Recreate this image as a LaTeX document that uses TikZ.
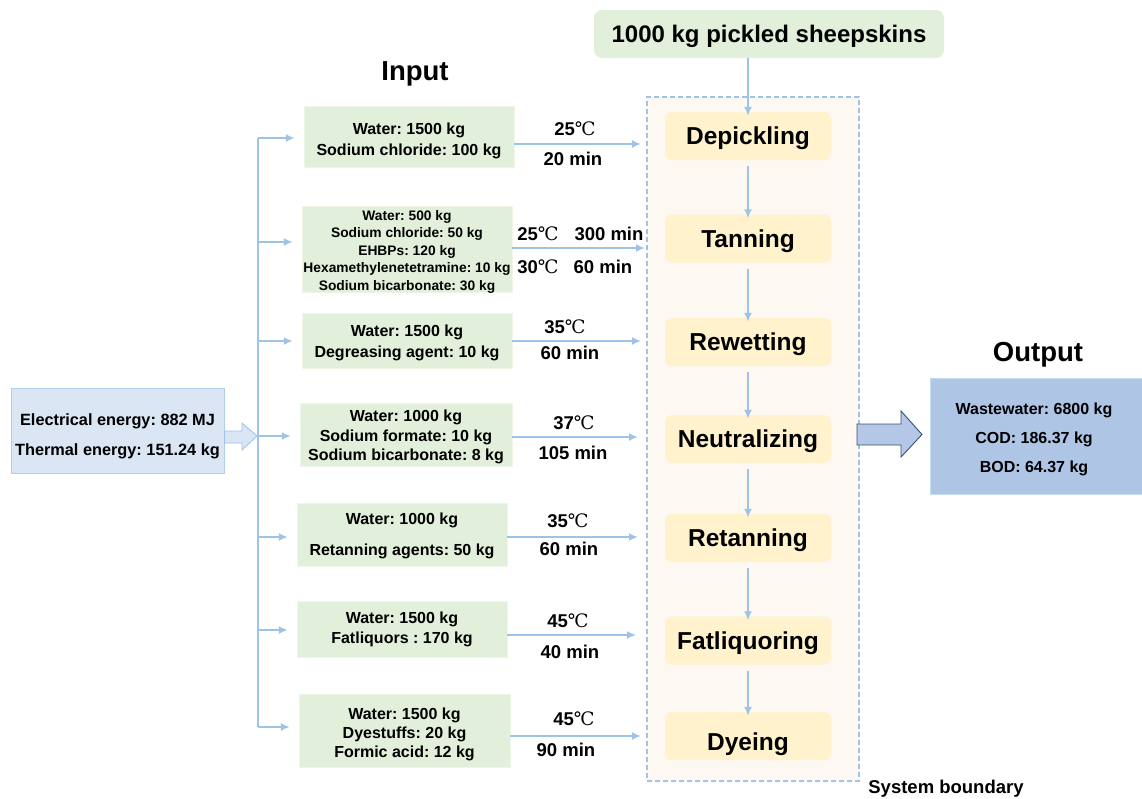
\documentclass[tikz,border=0pt]{standalone}
\usepackage{fontspec}
\setmainfont{Liberation Sans}
\newfontfamily\degf{DejaVu Serif}
\usetikzlibrary{arrows.meta}
\definecolor{lineblue}{HTML}{9DC3E6}
\definecolor{inbg}{HTML}{E2EFDA}
\definecolor{procbg}{HTML}{FFF2CC}
\definecolor{bndbg}{HTML}{FDF8F1}
\definecolor{enbg}{HTML}{DAE6F4}
\definecolor{outbg}{HTML}{AEC5E6}
\definecolor{outarrow}{HTML}{B4C7E7}
\definecolor{outarrowd}{HTML}{3A4E72}
\newcommand{\dgc}{{\degf\mdseries ℃}}
\frenchspacing
\tikzset{
  inbox/.style={fill=inbg, draw=inbg!60!white, inner sep=0},
  btext/.style={inner sep=0, align=center, text depth=0pt},
  proc/.style={fill=procbg, rounded corners=7, minimum width=166, minimum height=48, inner sep=0, text height=17.5pt, text depth=0pt, font=\fontsize{24.5}{28}\selectfont\bfseries},
  flow/.style={draw=lineblue, line width=1.8, -{Latex[length=9,width=8]}},
  plain/.style={draw=lineblue, line width=1.8},
  lbl/.style={font=\fontsize{18.5}{20}\selectfont\bfseries, inner sep=0, text height=13.2pt, text depth=0pt},
  title/.style={font=\fontsize{27.5}{30}\selectfont\bfseries, inner sep=0, text height=19.7pt, text depth=0pt},
}
\begin{document}
\begin{tikzpicture}[x=1pt,y=-1pt]
\useasboundingbox (0,0) rectangle (1142,798);

% system boundary
\node[draw=lineblue, dashed, dash pattern=on 5pt off 3pt, line width=1.2, fill=bndbg, minimum width=212, minimum height=684, inner sep=0] (bnd) at (753,439) {};
\node[font=\fontsize{18.5}{20}\selectfont\bfseries, inner sep=0, text height=13.2pt, text depth=0pt] (sbl) at (946,787) {System boundary};

% top
\node[fill=inbg, rounded corners=8, minimum width=350, minimum height=48, inner sep=0, text height=17.2pt, text depth=0pt, font=\fontsize{24}{28}\selectfont\bfseries] (top) at (769,34) {1000 kg pickled sheepskins};

% processes
\node[proc] (p1) at (748,136) {Depickling};
\node[proc] (p2) at (748,238.5) {Tanning};
\node[proc] (p3) at (748,342) {Rewetting};
\node[proc] (p4) at (748,439) {Neutralizing};
\node[proc] (p5) at (748,538) {Retanning};
\node[proc] (p6) at (748,640.5) {Fatliquoring};
\node[proc, text height=28.5pt] (p7) at (748,736) {Dyeing};

\draw[flow] (top.south -| p1.north) -- ([yshift=-4]p1.north);
\foreach \a/\b in {p1/p2,p2/p3,p3/p4,p4/p5,p5/p6,p6/p7}
  \draw[flow] ([yshift=-6]\a.south) -- ([yshift=-4]\b.north);

% titles
\node[title] (inl) at (415,71) {Input};
\node[title] (outl) at (1038,352) {Output};

% energy box
\node[fill=enbg, draw=lineblue!80, line width=1, minimum width=213, minimum height=85, inner sep=0] (en) at (117.5,430.5) {};
\node[btext, font=\fontsize{16.3}{30}\selectfont\bfseries] (ent) at (117.5,435) {Electrical energy: 882 MJ\\Thermal energy: 151.24 kg};
\coordinate (etip) at (257,436);
\filldraw[fill=enbg, draw=lineblue, line width=0.8] (en.east |- 0,431) -- (242,431) -- (242,423) -- (etip) -- (242,450) -- (242,443) -- (en.east |- 0,443) -- cycle;

% input boxes
\node[inbox, minimum width=210, minimum height=61] (in1) at (409,136.5) {};
\node[inbox, minimum width=210, minimum height=86] (in2) at (407,249) {};
\node[inbox, minimum width=210, minimum height=55] (in3) at (407,340.5) {};
\node[inbox, minimum width=212, minimum height=63] (in4) at (406,434.5) {};
\node[inbox, minimum width=210, minimum height=63] (in5) at (402,534.5) {};
\node[inbox, minimum width=210, minimum height=56] (in6) at (402,629) {};
\node[inbox, minimum width=211, minimum height=73] (in7) at (404.5,730.5) {};

\node[btext, font=\fontsize{16}{21}\selectfont\bfseries] (in1t) at (409,139.5) {Water: 1500 kg\\Sodium chloride: 100 kg};
\node[btext, font=\fontsize{13.8}{17.5}\selectfont\bfseries] (in2t) at (407,250) {Water: 500 kg\\Sodium chloride: 50 kg\\EHBPs: 120 kg\\Hexamethylenetetramine: 10 kg\\Sodium bicarbonate: 30 kg};
\node[btext, font=\fontsize{16}{21}\selectfont\bfseries] (in3t) at (407,341.5) {Water: 1500 kg\\Degreasing agent: 10 kg};
\node[btext, font=\fontsize{16}{19.5}\selectfont\bfseries] (in4t) at (406,435.5) {Water: 1000 kg\\Sodium formate: 10 kg\\Sodium bicarbonate: 8 kg};
\node[btext, font=\fontsize{16}{31}\selectfont\bfseries] (in5t) at (402,534.5) {Water: 1000 kg\\Retanning agents: 50 kg};
\node[btext, font=\fontsize{16}{20}\selectfont\bfseries] (in6t) at (402,628) {Water: 1500 kg\\Fatliquors : 170 kg};
\node[btext, font=\fontsize{16}{19}\selectfont\bfseries] (in7t) at (404.5,732.5) {Water: 1500 kg\\Dyestuffs: 20 kg\\Formic acid: 12 kg};

% distribution line
\coordinate (v1) at (258,138);
\coordinate (v2) at (258,242);
\coordinate (v3) at (258,341);
\coordinate (v4) at (258,436);
\coordinate (v5) at (258,537);
\coordinate (v6) at (258,630);
\coordinate (v7) at (258,727);
\draw[plain] (v1) -- (v7);
\foreach \i in {1,...,7}
  \draw[flow] (v\i) -- ([xshift=-9]in\i.west |- v\i);

% process arrows
\coordinate (a1) at (641,144);
\coordinate (a2) at (645,248);
\coordinate (a3) at (641,341);
\coordinate (a4) at (638,437);
\coordinate (a5) at (638,537);
\coordinate (a6) at (636,635);
\coordinate (a7) at (641,736);
\foreach \i in {1,...,7}
  \draw[flow] (in\i.east |- a\i) -- (a\i);

\node[lbl] (t1) at (575,129) {25\dgc};
\node[lbl] (m1) at (573,159) {20 min};
\node[lbl] (t2a) at (538,234) {25\dgc};
\node[lbl] (m2a) at (609,234) {300 min};
\node[lbl] (t2b) at (538,267) {30\dgc};
\node[lbl] (m2b) at (603,267) {60 min};
\node[lbl] (t3) at (565,327) {35\dgc};
\node[lbl] (m3) at (570,353) {60 min};
\node[lbl] (t4) at (574,423) {37\dgc};
\node[lbl] (m4) at (573,453) {105 min};
\node[lbl] (t5) at (568,521) {35\dgc};
\node[lbl] (m5) at (569,549) {60 min};
\node[lbl] (t6) at (568,621) {45\dgc};
\node[lbl] (m6) at (570,652) {40 min};
\node[lbl] (t7) at (574,719) {45\dgc};
\node[lbl] (m7) at (566,750) {90 min};

% output
\node[fill=outbg, draw=lineblue!60, line width=1, minimum width=212, minimum height=116, inner sep=0] (out) at (1036,436) {};
\node[btext, font=\fontsize{16}{29}\selectfont\bfseries] (outt) at (1034,438) {Wastewater: 6800 kg\\COD: 186.37 kg\\BOD: 64.37 kg};
\coordinate (otail) at (857,434.5);
\filldraw[fill=outarrow, draw=outarrowd, line width=0.9] (otail |- 0,424) -- (901,424) -- (901,411) -- (922,434.5) -- (901,457) -- (901,445) -- (otail |- 0,445) -- cycle;
\end{tikzpicture}
\end{document}
